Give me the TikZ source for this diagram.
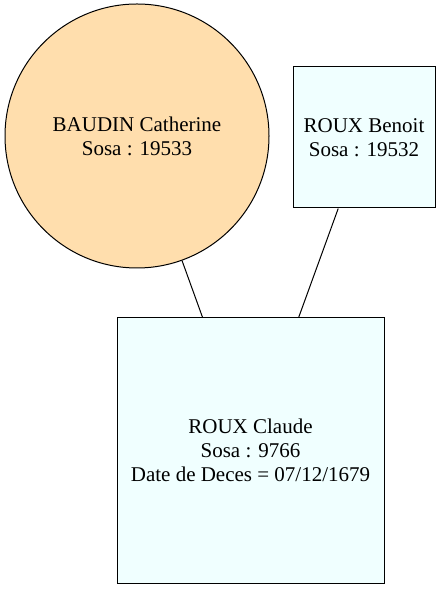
\documentclass[tikz,border=0pt]{standalone}
\usepackage{fontspec}
\setmainfont{Liberation Serif}
\definecolor{navajo}{HTML}{FFDEAD}
\definecolor{azurefill}{HTML}{F0FFFF}
\begin{document}
\begin{tikzpicture}[x=1pt,y=1pt,
  person/.style={draw=black, line width=1pt, align=center, inner sep=0pt,
    font=\fontsize{21}{24}\selectfont},
  circ/.style={person, circle, fill=navajo, minimum size=264pt},
  boxed/.style={person, rectangle, fill=azurefill},
  link/.style={draw=black, line width=1pt}]
\useasboundingbox (0,0) rectangle (440,589);
\node[circ] (baudin) at (137,453) {BAUDIN Catherine\\Sosa : 19533};
\node[boxed, minimum width=142pt, minimum height=141pt] (benoit) at (364,451.5) {ROUX Benoit\\Sosa : 19532};
\node[boxed, minimum width=267pt, minimum height=266pt] (claude) at (250.5,138.5) {ROUX Claude\\Sosa : 9766\\Date de Deces = 07/12/1679};
\draw[link] (baudin) -- (claude);
\draw[link] (benoit) -- (claude);
\end{tikzpicture}
\end{document}
